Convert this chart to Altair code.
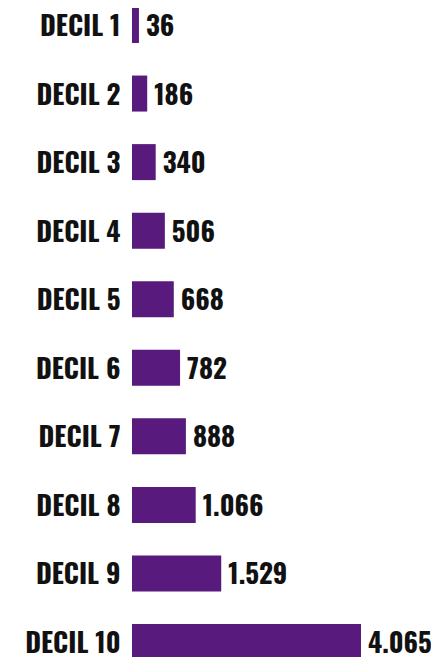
import altair as alt
import pandas as pd

categories = ["DECIL 1", "DECIL 2", "DECIL 3", "DECIL 4", "DECIL 5",
              "DECIL 6", "DECIL 7", "DECIL 8", "DECIL 9", "DECIL 10"]
values = [36, 186, 340, 506, 668, 782, 888, 1066, 1529, 4065]

df = pd.DataFrame({
    "decil": categories,
    "valor": values,
    "etiqueta": [f"{v:,}".replace(",", ".") for v in values],
})

FONT = "Oswald"
PURPLE = "#581a7c"
FS = 27

y = alt.Y("decil:N", sort=categories, title=None,
          scale=alt.Scale(paddingInner=0.4749, paddingOuter=0, range=[-5, 648]),
          axis=alt.Axis(domain=False, ticks=False, labelPadding=12, labelOffset=3,
                        labelFont=FONT, labelFontSize=FS, labelFontWeight="bold",
                        labelColor="#111111"))
x = alt.X("valor:Q", title=None,
          scale=alt.Scale(domain=[-90, 4065], nice=False, zero=False),
          axis=None)

bars = alt.Chart(df).mark_bar(color=PURPLE).encode(
    x=x, x2=alt.datum(-90), y=y)

text = alt.Chart(df).mark_text(
    align="left", baseline="middle", dx=7, dy=3, font=FONT, fontSize=FS,
    fontWeight="bold", color="#111111").encode(
    x=x, y=y, text="etiqueta:N")

chart = alt.layer(bars, text).properties(
    width=229, height=645,
    autosize=alt.AutoSizeParams(type="none"),
    padding={"left": 124, "top": 4, "right": 70, "bottom": 0},
    background="white",
).configure_view(stroke=None)

chart.save("out.html", embed_options={"renderer": "svg", "actions": False})
